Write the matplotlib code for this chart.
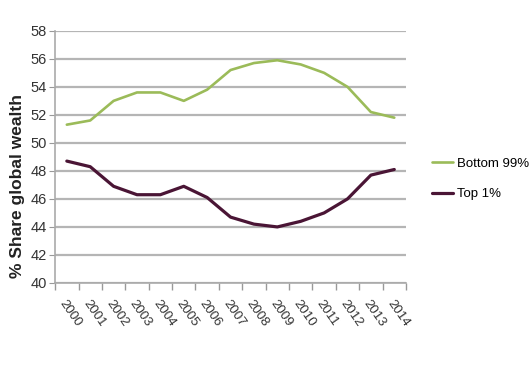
import numpy as np
import matplotlib.pyplot as plt
from matplotlib.ticker import FixedLocator

# Data
Years = [str(y) for y in range(2000, 2015)]
Bottom_99 = [51.3, 51.6, 53.0, 53.6, 53.6, 53.0, 53.8, 55.2, 55.7, 55.9, 55.6, 55.0, 54.0, 52.2, 51.8]
Top_1 = [48.7, 48.3, 46.9, 46.3, 46.3, 46.9, 46.1, 44.7, 44.2, 44.0, 44.4, 45.0, 46.0, 47.7, 48.1]

plt.rcParams['font.family'] = ['Liberation Sans', 'DejaVu Sans']

# Create figure
fig = plt.figure(figsize=(5.3, 3.67), dpi=100)
ax = fig.add_axes([0.104, 0.229, 0.662, 0.687])

x = np.arange(len(Years))
ax.plot(x, Bottom_99, color='#9bbb59', linewidth=1.9, label='Bottom 99%', solid_capstyle='round')
ax.plot(x, Top_1, color='#4a1535', linewidth=2.3, label='Top 1%', solid_capstyle='round')

# Axes configuration
ax.set_xlim(-0.5, len(Years) - 0.5)
ax.set_ylim(40, 58)
ax.set_yticks(range(40, 59, 2))
ax.set_xticks(x)
ax.set_xticklabels(Years, rotation=-55, ha='left', va='top', rotation_mode='anchor')
ax.xaxis.set_minor_locator(FixedLocator(np.arange(-0.5, len(Years), 1)))
ax.tick_params(axis='x', which='major', length=0, pad=11, labelsize=9.5, colors='#333333')
ax.tick_params(axis='x', which='minor', length=5, color='#999999', width=1)
ax.tick_params(axis='y', length=4, color='#999999', labelsize=10.5, labelcolor='#333333', pad=2)

ax.grid(axis='y', color='#b5b5b5', linewidth=1.6)
ax.set_axisbelow(True)
for s in ['top', 'right']:
	ax.spines[s].set_visible(False)
ax.spines['left'].set_color('#aaaaaa')
ax.spines['bottom'].set_color('#aaaaaa')
ax.spines['left'].set_linewidth(1.2)
ax.spines['bottom'].set_linewidth(1.2)

ax.set_ylabel('% Share global wealth', fontsize=12.5, fontweight='bold', color='#222222')
ax.yaxis.set_label_coords(-0.085, 0.385)

ax.legend(loc='center left', bbox_to_anchor=(1.06, 0.413), frameon=False, fontsize=9.5,
	handlelength=1.6, handletextpad=0.25, labelspacing=1.4, borderaxespad=0)

plt.savefig('out.png', dpi=100)
plt.close()
